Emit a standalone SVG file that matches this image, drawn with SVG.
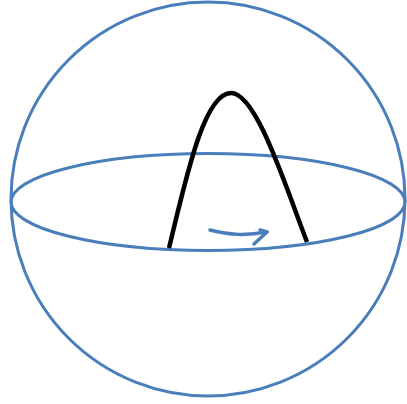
<svg xmlns="http://www.w3.org/2000/svg" width="407" height="404" viewBox="0 0 407 404">
<style>
.blue{fill:none;stroke:#4a7ebb;stroke-width:3}
.arch{fill:none;stroke:#000;stroke-width:4.5;stroke-linecap:butt}
</style>
<rect width="407" height="404" fill="#fff"/>
<g id="sphere">
<circle class="blue" cx="208" cy="199" r="197"/>
</g>
<g id="equator">
<ellipse class="blue" cx="208" cy="202" rx="197" ry="48.5"/>
</g>
<g id="arch">
<path class="arch" d="M169,248 C186,178 204,93 231,93 C256,93 284,182 307,242"/>
</g>
<g id="connectors">
<path d="M210,230 C230,235 245,236 267,232" fill="none" stroke="#4a7ebb" stroke-width="3.5" stroke-linecap="round"/>
<path d="M260,230 L267,232 L254,244" fill="none" stroke="#4a7ebb" stroke-width="3.5" stroke-linecap="round" stroke-linejoin="round"/>
</g>
</svg>
